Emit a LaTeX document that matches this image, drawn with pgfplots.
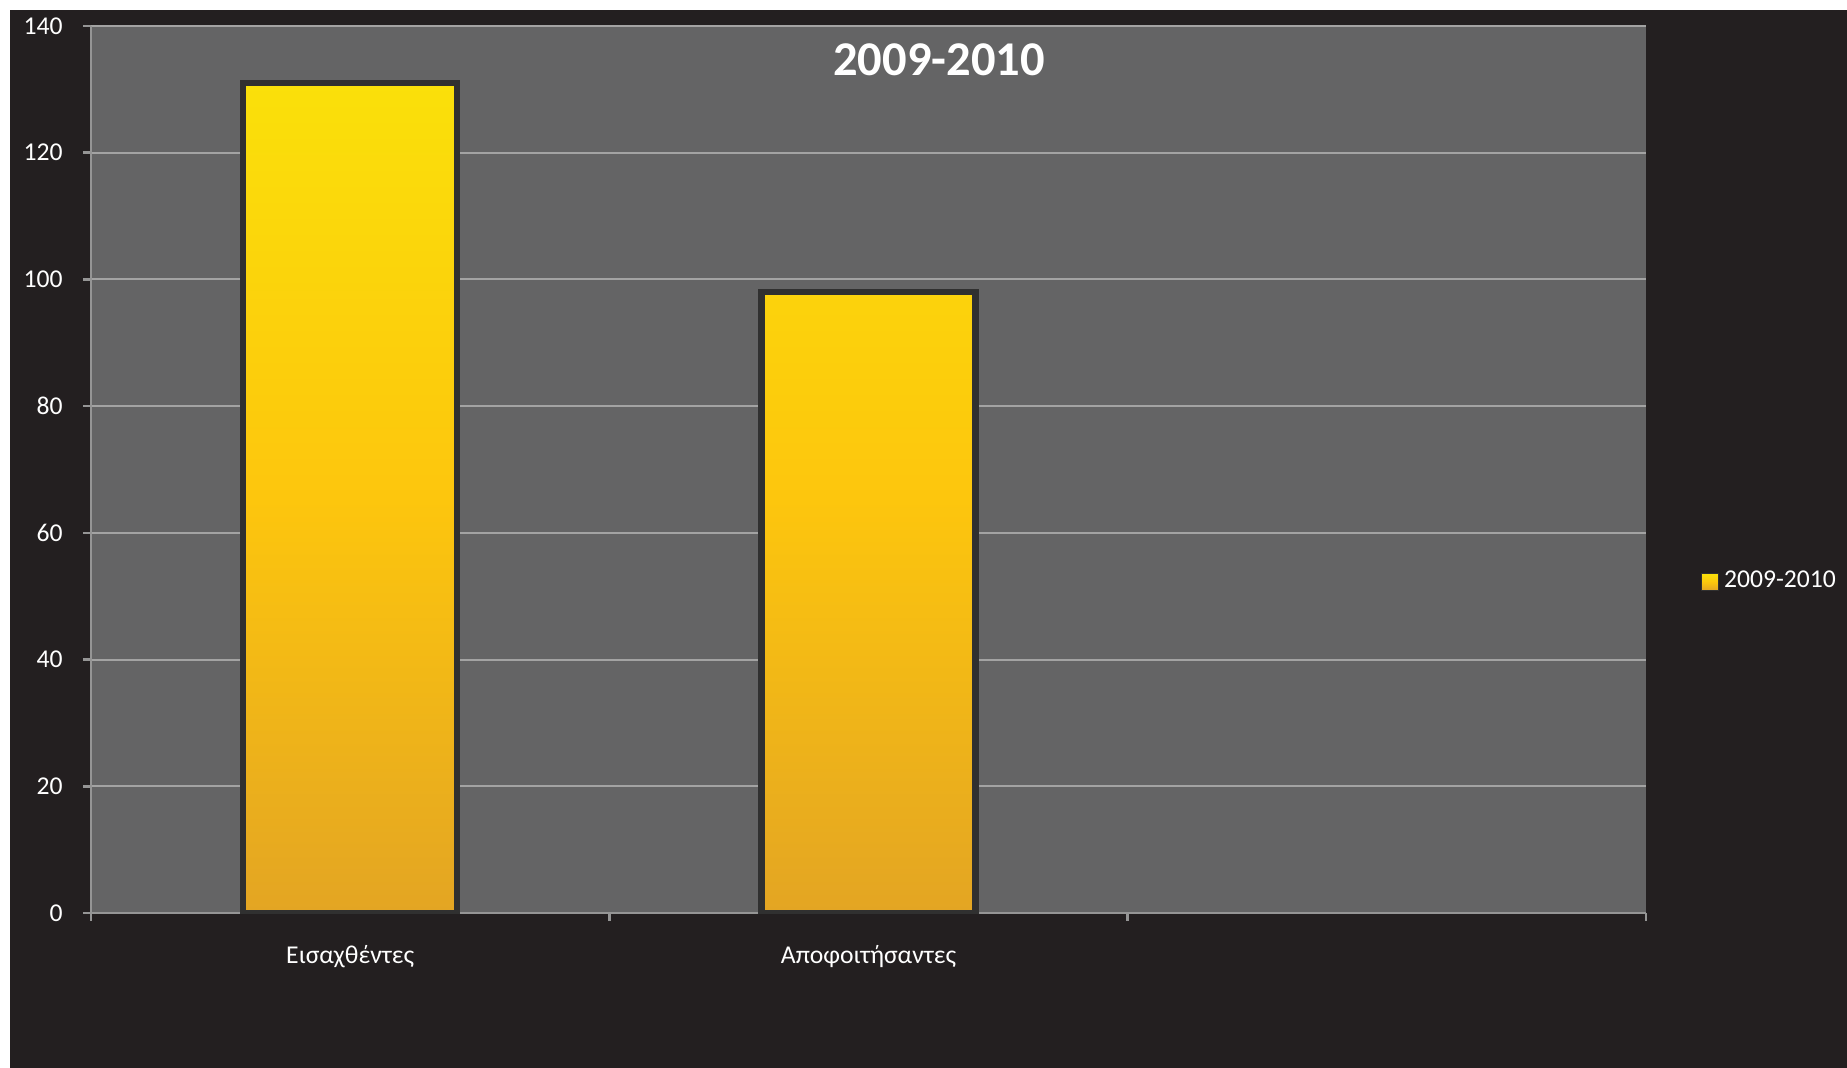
\documentclass[border=0pt]{standalone}
\usepackage{fontspec}
\setmainfont{Carlito}
\usepackage{pgfplots}
\pgfplotsset{compat=1.18}
\definecolor{bgdark}{HTML}{231F20}
\definecolor{plotgray}{HTML}{646465}
\definecolor{gridc}{HTML}{A3A3A3}
\definecolor{axc}{HTML}{959595}
\definecolor{ytop}{HTML}{FAE00A}
\definecolor{ymid}{HTML}{FDC60D}
\definecolor{ybot}{HTML}{E3A523}
\definecolor{barshadow}{HTML}{303030}
\begin{document}
\begin{tikzpicture}
\useasboundingbox (0,0) rectangle (18.47,10.67);
\fill[white] (-0.05,-0.05) rectangle (18.52,10.72);
\fill[bgdark] (0.10,-0.05) rectangle (18.52,10.57);
\begin{axis}[
  at={(0.91cm,1.54cm)}, anchor=south west,
  scale only axis, width=15.55cm, height=8.87cm,
  xmin=-0.5, xmax=2.5, ymin=0, ymax=140,
  axis background/.style={fill=plotgray},
  axis x line*=bottom, axis y line*=left,
  axis line style={axc, line width=0.7pt},
  ytick={0,20,...,140},
  ymajorgrids, grid style={gridc, line width=0.6pt},
  xtick={0,1}, xticklabels={Εισαχθέντες, Αποφοιτήσαντες},
  major x tick style={draw=none},
  minor xtick={-0.5,0.5,1.5,2.5},
  tick align=outside,
  tick style={axc, line width=0.7pt},
  major tick length=0.08cm, minor tick length=0.08cm,
  /pgf/number format/assume math mode=true,
  ticklabel style={text=white, font=\fontsize{7.3}{8.8}\selectfont},
  yticklabel style={xshift=-0.08cm},
  xticklabel style={anchor=base, yshift=-0.42cm},
  legend style={at={(1.0347,0.373)}, anchor=west, draw=none, fill=none,
    text=white, font=\fontsize{7.3}{8.8}\selectfont, inner sep=0pt,
    nodes={inner sep=0.05cm}},
  legend image code/.code={\draw[barshadow, line width=0.4pt, top color=ytop, bottom color=ybot, middle color=ymid] (0cm,-0.085cm) rectangle (0.17cm,0.085cm);},
]
\addplot[ybar, bar width=2.14cm, draw=barshadow, line width=0.65mm,
  top color=ytop, bottom color=ybot, middle color=ymid]
  coordinates {(0,131) (1,98)};
\addlegendentry{2009-2010}
\end{axis}
\node[text=white, font=\fontsize{13.8}{16}\selectfont\bfseries] at (9.39,10.075) {2009-2010};
\end{tikzpicture}
\end{document}
